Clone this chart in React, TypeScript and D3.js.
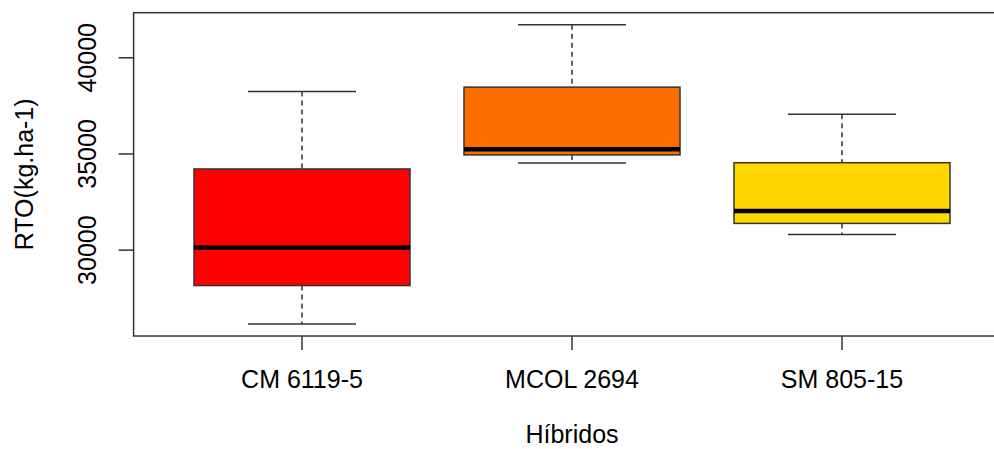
import React from 'react';
import * as d3 from 'd3';

// Híbridos e estatísticas do boxplot
const hybrids = ['CM 6119-5', 'MCOL 2694', 'SM 805-15'];
const lowerWhisker = [26160, 34530, 30815];
const q1 = [28160, 34950, 31390];
const median = [30140, 35245, 32030];
const q3 = [34220, 38475, 34545];
const upperWhisker = [38245, 41720, 37070];
const boxColors = ['#FF0000', '#FF6F00', '#FFD700'];
const yTicks = [30000, 35000, 40000];

const W = 994;
const H = 449;
const plot = { left: 134.6, right: 1009.4, top: 12.7, bottom: 336 };
const FONT = 'Liberation Sans, Arial, sans-serif';

const App = () => {
  const lo = d3.min(lowerWhisker) as number;
  const hi = d3.max(upperWhisker) as number;
  const pad = (hi - lo) * 0.04;

  const x = d3.scaleLinear().domain([0.38, hybrids.length + 0.62]).range([plot.left, plot.right]);
  const y = d3.scaleLinear().domain([lo - pad, hi + pad]).range([plot.bottom, plot.top]);

  const unit = x(2) - x(1);
  const boxW = unit * 0.8;
  const capW = boxW / 2;

  return (
    <div style={{ position: 'absolute', left: 0, top: 0 }}>
      <svg width={W} height={H} style={{ display: 'block', background: '#fff' }}>
        {hybrids.map((h, i) => {
          const cx = x(i + 1);
          return (
            <g key={h}>
              {/* bigodes */}
              <line x1={cx} x2={cx} y1={y(upperWhisker[i])} y2={y(q3[i])} stroke="#333" strokeWidth={1.5} strokeDasharray="5,4" />
              <line x1={cx} x2={cx} y1={y(q1[i])} y2={y(lowerWhisker[i])} stroke="#333" strokeWidth={1.5} strokeDasharray="5,4" />
              <line x1={cx - capW / 2} x2={cx + capW / 2} y1={y(upperWhisker[i])} y2={y(upperWhisker[i])} stroke="#333" strokeWidth={1.5} />
              <line x1={cx - capW / 2} x2={cx + capW / 2} y1={y(lowerWhisker[i])} y2={y(lowerWhisker[i])} stroke="#333" strokeWidth={1.5} />
              {/* caixa */}
              <rect x={cx - boxW / 2} y={y(q3[i])} width={boxW} height={y(q1[i]) - y(q3[i])} fill={boxColors[i]} stroke="#333" strokeWidth={1.5} />
              <line x1={cx - boxW / 2} x2={cx + boxW / 2} y1={y(median[i])} y2={y(median[i])} stroke="#000" strokeWidth={4.5} />
            </g>
          );
        })}

        {/* moldura */}
        <rect x={plot.left - 1} y={plot.top} width={plot.right - plot.left + 2} height={plot.bottom - plot.top} fill="none" stroke="#333" strokeWidth={1.5} />

        {/* eixo y */}
        {yTicks.map(t => (
          <g key={t}>
            <line x1={plot.left - 1 - 15} x2={plot.left - 1} y1={y(t)} y2={y(t)} stroke="#333" strokeWidth={1.5} />
            <text
              transform={`translate(96,${y(t)}) rotate(-90)`}
              textAnchor="middle"
              fontFamily={FONT}
              fontSize={25}
              fill="#000"
            >
              {t}
            </text>
          </g>
        ))}
        <text
          transform={`translate(33,${(plot.top + plot.bottom) / 2}) rotate(-90)`}
          textAnchor="middle"
          fontFamily={FONT}
          fontSize={25}
          fill="#000"
        >
          RTO(kg.ha-1)
        </text>

        {/* eixo x */}
        {hybrids.map((h, i) => (
          <g key={h}>
            <line x1={x(i + 1)} x2={x(i + 1)} y1={plot.bottom} y2={plot.bottom + 14} stroke="#333" strokeWidth={1.5} />
            <text x={x(i + 1)} y={388} textAnchor="middle" fontFamily={FONT} fontSize={25} fill="#000">
              {h}
            </text>
          </g>
        ))}
        <text x={x(2)} y={443} textAnchor="middle" fontFamily={FONT} fontSize={25} fill="#000">
          Híbridos
        </text>
      </svg>
    </div>
  );
};

export default App;
